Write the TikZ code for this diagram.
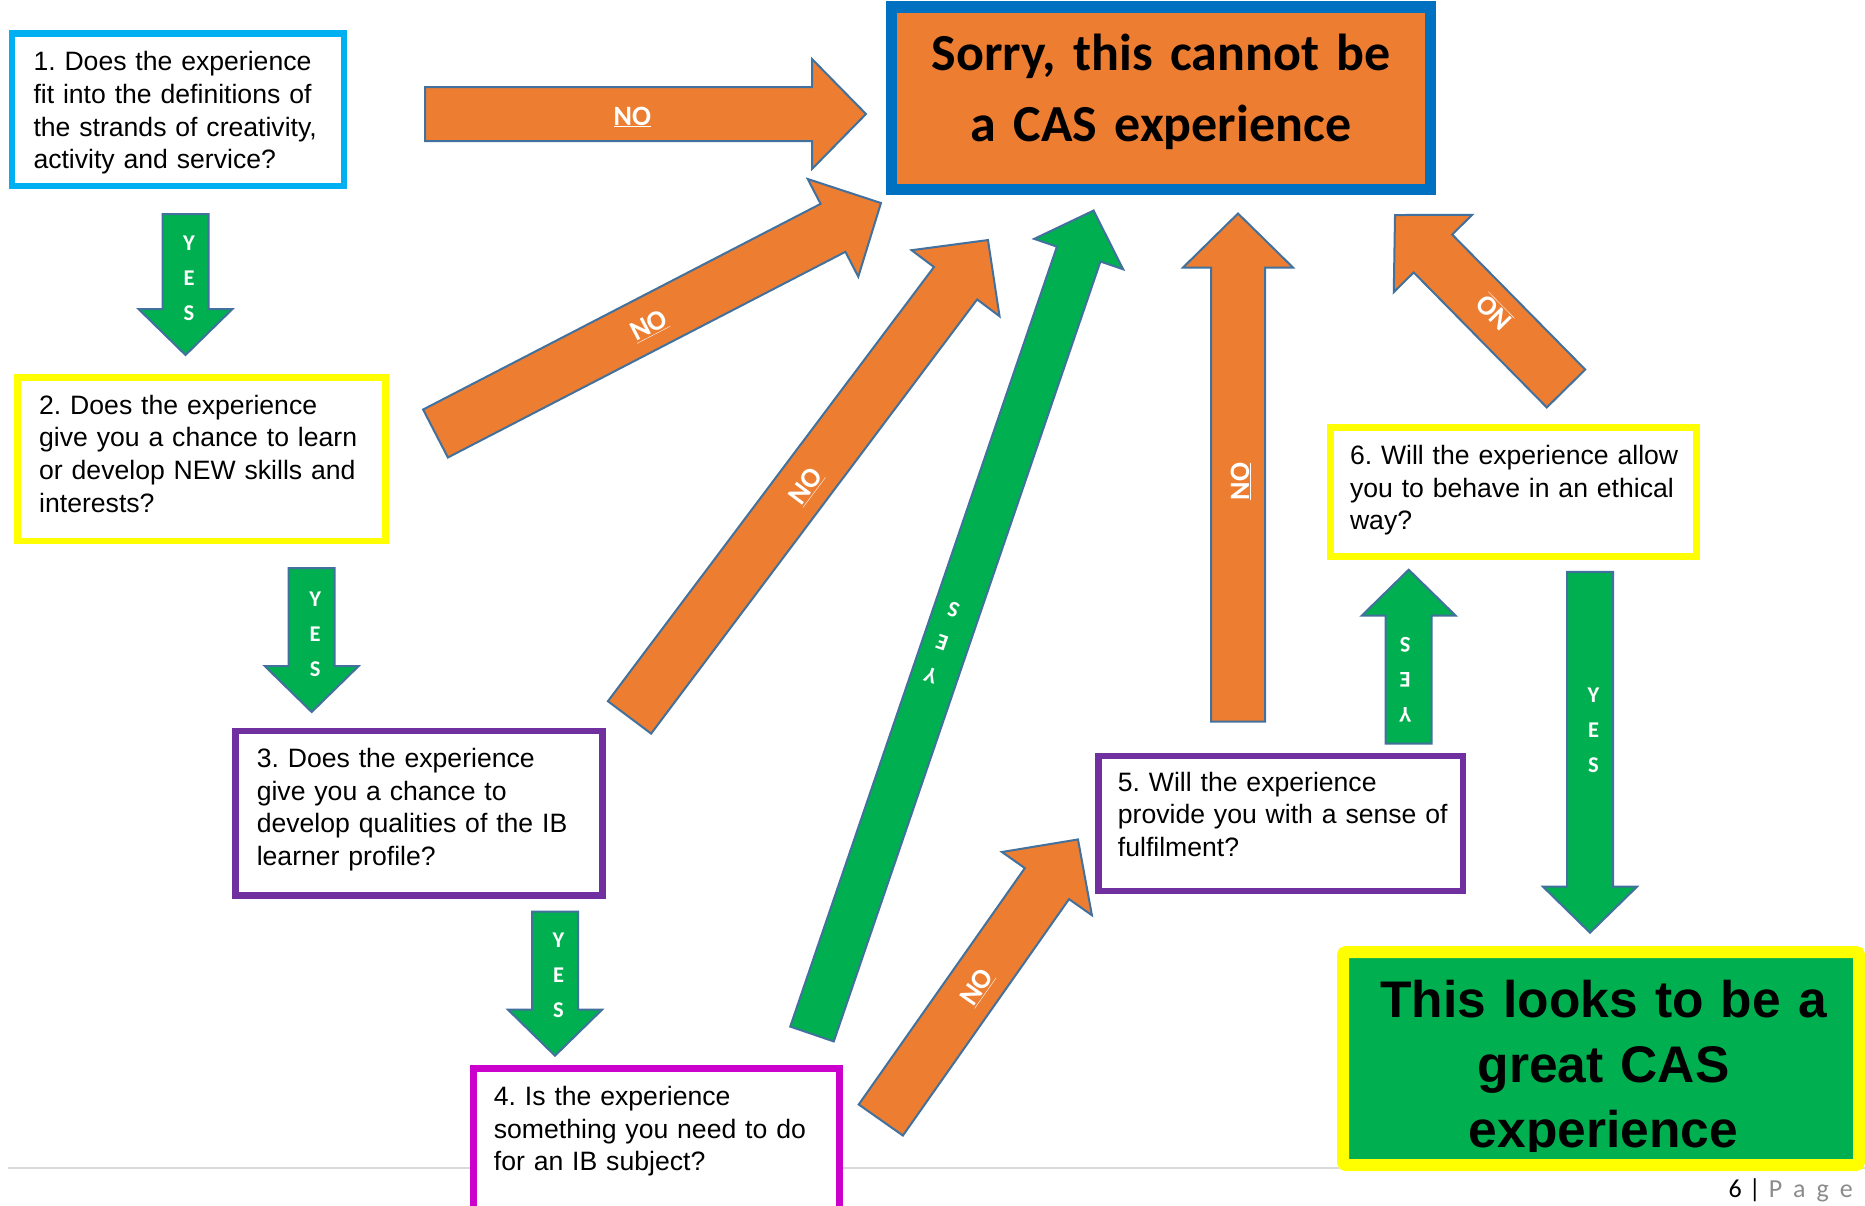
\documentclass[tikz,border=0pt]{standalone}
\usepackage{fontspec}
\setmainfont{Liberation Sans}
\newfontfamily\calfont{Carlito}
\usetikzlibrary{calc}
\frenchspacing
\definecolor{cyanb}{HTML}{00B0F0}
\definecolor{yel}{HTML}{FFFF00}
\definecolor{purp}{HTML}{7030A0}
\definecolor{mag}{HTML}{CC00CC}
\definecolor{orng}{HTML}{ED7D31}
\definecolor{grn}{HTML}{00B050}
\definecolor{blu}{HTML}{0070C0}
\definecolor{outl}{HTML}{41719C}
\definecolor{pgray}{HTML}{8C8C8C}
\definecolor{rulegray}{HTML}{D9D9D9}
% block arrow: #1 fill, #2 tail, #3 tip, #4 shaft width, #5 head width, #6 head length
\newcommand\blockarrow[6]{%
  \path let \p1=($(#3)-(#2)$) in \pgfextra{\pgfmathsetmacro\tmpang{atan2(\y1,\x1)}\pgfmathsetmacro\tmplen{veclen(\x1,\y1)}\global\let\Arrang\tmpang\global\let\Arrlen\tmplen};
  \begin{scope}[shift={(#2)},rotate=\Arrang]
    \filldraw[fill=#1,draw=outl,line width=2pt,line join=miter]
      (0pt,{#4/2*1pt}) -- ({(\Arrlen-#6)*1pt},{#4/2*1pt}) -- ({(\Arrlen-#6)*1pt},{#5/2*1pt})
      -- ({\Arrlen*1pt},0pt) -- ({(\Arrlen-#6)*1pt},{-#5/2*1pt}) -- ({(\Arrlen-#6)*1pt},{-#4/2*1pt})
      -- (0pt,{-#4/2*1pt}) -- cycle;
  \end{scope}}
\newcommand\noarrow[4]{\blockarrow{orng}{#2}{#3}{54}{110}{54}%
  \coordinate (#1c) at ($(#2)!#4!(#3)$);
  \node[nolbl,rotate=\Arrang] (#1) at ($(#1c)!11pt!-90:(#3)$) {\underline{NO}};}
\newcommand\yesarrow[4]{\blockarrow{grn}{#2}{#3}{46}{94}{46}%
  \coordinate (#1c) at ($(#2)!#4!(#3)$);
  \node[yeslbl,rotate=\Arrang+90] (#1) at ($(#1c)!3.5pt!90:(#3)$) {Y\\[0pt]E\\[0pt]S};}
\tikzset{
  qbox/.style={draw,line width=6.5pt,fill=white,outer sep=0pt,inner sep=0pt,anchor=north west},
  qtxt/.style={anchor=base west,align=left,text width=360pt,inner sep=0pt,
    font={\fontsize{26.6}{32.7}\selectfont}},
  nolbl/.style={text=white,font={\calfont\bfseries\fontsize{28}{32}\selectfont},anchor=base,inner sep=0pt},
  yeslbl/.style={text=white,font={\calfont\bfseries\fontsize{22.5}{35}\selectfont},align=center,inner sep=0pt,anchor=center}
}
\begin{document}
\begin{tikzpicture}[x=1pt,y=-1pt]
\useasboundingbox (0,0) rectangle (1865,1205);
\fill[white] (0,0) rectangle (1865,1205);
% page rule
\coordinate (r1) at (8,1168);
\coordinate (r2) at (1865,1168);
\draw[rulegray,line width=2pt] (r1) -- (r2);
% arrow end points
\coordinate (a1s) at (425,114);     \coordinate (a1e) at (866,114);
\coordinate (a2s) at (435.5,433.5); \coordinate (a2e) at (881,203);
\coordinate (a3s) at (629.5,717.4); \coordinate (a3e) at (988,240);
\coordinate (a4s) at (1238,721.5);  \coordinate (a4e) at (1238,213.5);
\coordinate (a5s) at (1566,388.5);  \coordinate (a5e) at (1395,215);
\coordinate (a6s) at (880.8,1120);  \coordinate (a6e) at (1078,839.4);
\coordinate (y1s) at (185.5,214);   \coordinate (y1e) at (185.5,355);
\coordinate (y2s) at (311.7,568);   \coordinate (y2e) at (311.7,712);
\coordinate (y3s) at (555,911.7);   \coordinate (y3e) at (555,1055.7);
\coordinate (y4s) at (812,1034);    \coordinate (y4e) at (1093.6,210.5);
\coordinate (y5s) at (1408.7,743.6);\coordinate (y5e) at (1408.7,569.7);
\coordinate (y6s) at (1590,571.8);  \coordinate (y6e) at (1590,932.7);
% NO arrows
\noarrow{n1}{a1s}{a1e}{0.47}
\noarrow{n2}{a2s}{a2e}{0.477}
\noarrow{n3}{a3s}{a3e}{0.487}
\noarrow{n4}{a4s}{a4e}{0.472}
\noarrow{n5}{a5s}{a5e}{0.43}
\noarrow{n6}{a6s}{a6e}{0.478}
% YES arrows
\yesarrow{ys1}{y1s}{y1e}{0.455}
\yesarrow{ys2}{y2s}{y2e}{0.458}
\yesarrow{ys3}{y3s}{y3e}{0.443}
\yesarrow{ys4}{y4s}{y4e}{0.474}
\yesarrow{ys5}{y5s}{y5e}{0.366}
\yesarrow{ys6}{y6s}{y6e}{0.438}
% question boxes
\node[qbox,draw=cyanb,minimum width=332pt,minimum height=152.5pt] (b1) at (11.75,33.25) {};
\node[qbox,draw=yel,minimum width=367.7pt,minimum height=163.4pt] (b2) at (17.65,377.55) {};
\node[qbox,draw=purp,minimum width=367.1pt,minimum height=164.2pt] (b3) at (235.25,731.05) {};
\node[qbox,draw=mag,minimum width=366.2pt,minimum height=170pt] (b4) at (473.25,1068.25) {};
\node[qbox,draw=purp,minimum width=364.6pt,minimum height=134.6pt] (b5) at (1098.55,756.15) {};
\node[qbox,draw=yel,minimum width=366.2pt,minimum height=129pt] (b6) at (1330.25,427.25) {};
\node[qtxt] (t1) at (33.3,70.8) {1. Does the experience\\fit into the definitions of\\the strands of creativity,\\activity and service?};
\node[qtxt] (t2) at (39,414) {2. Does the experience\\give you a chance to learn\\or develop NEW skills and\\interests?};
\node[qtxt] (t3) at (256.6,767.5) {3. Does the experience\\give you a chance to\\develop qualities of the IB\\learner profile?};
\node[qtxt] (t4) at (493.7,1105.5) {4. Is the experience\\something you need to do\\for an IB subject?};
\node[qtxt] (t5) at (1117.7,791) {5. Will the experience\\provide you with a sense of\\fulfilment?};
\node[qtxt] (t6) at (1349.8,464.5) {6. Will the experience allow\\you to behave in an ethical\\way?};
% result boxes
\node[draw=blu,fill=orng,line width=11.5pt,outer sep=0pt,inner sep=0pt,anchor=north west,
  minimum width=539pt,minimum height=182.5pt] (sorry) at (891.25,6.75) {};
\node[anchor=base,align=center,text width=540pt,inner sep=0pt,
  font={\calfont\bfseries\fontsize{52}{70.8}\selectfont}] (sorrytxt) at (1161,70.8)
  {Sorry, this cannot be\\a CAS experience};
\node[draw=yel,fill=grn,line width=12pt,rounded corners=3pt,outer sep=0pt,inner sep=0pt,anchor=north west,
  minimum width=516pt,minimum height=213pt] (great) at (1343,952) {};
\begin{scope}
\clip (1349,958) rectangle (1853,1151);
\node[anchor=base,align=center,text width=520pt,inner sep=0pt,
  font={\bfseries\fontsize{51.5}{65}\selectfont}] (greattxt) at (1603.5,1017)
  {This looks to be a\\great CAS\\experience};
\end{scope}
% footer
\node[anchor=base east,inner sep=0pt,font={\calfont\fontsize{26}{30}\selectfont}] (pg) at (1853,1197)
  {6\kern7pt|\kern8pt\textcolor{pgray}{P\kern11pt a\kern11pt g\kern11pt e}};
\end{tikzpicture}
\end{document}
